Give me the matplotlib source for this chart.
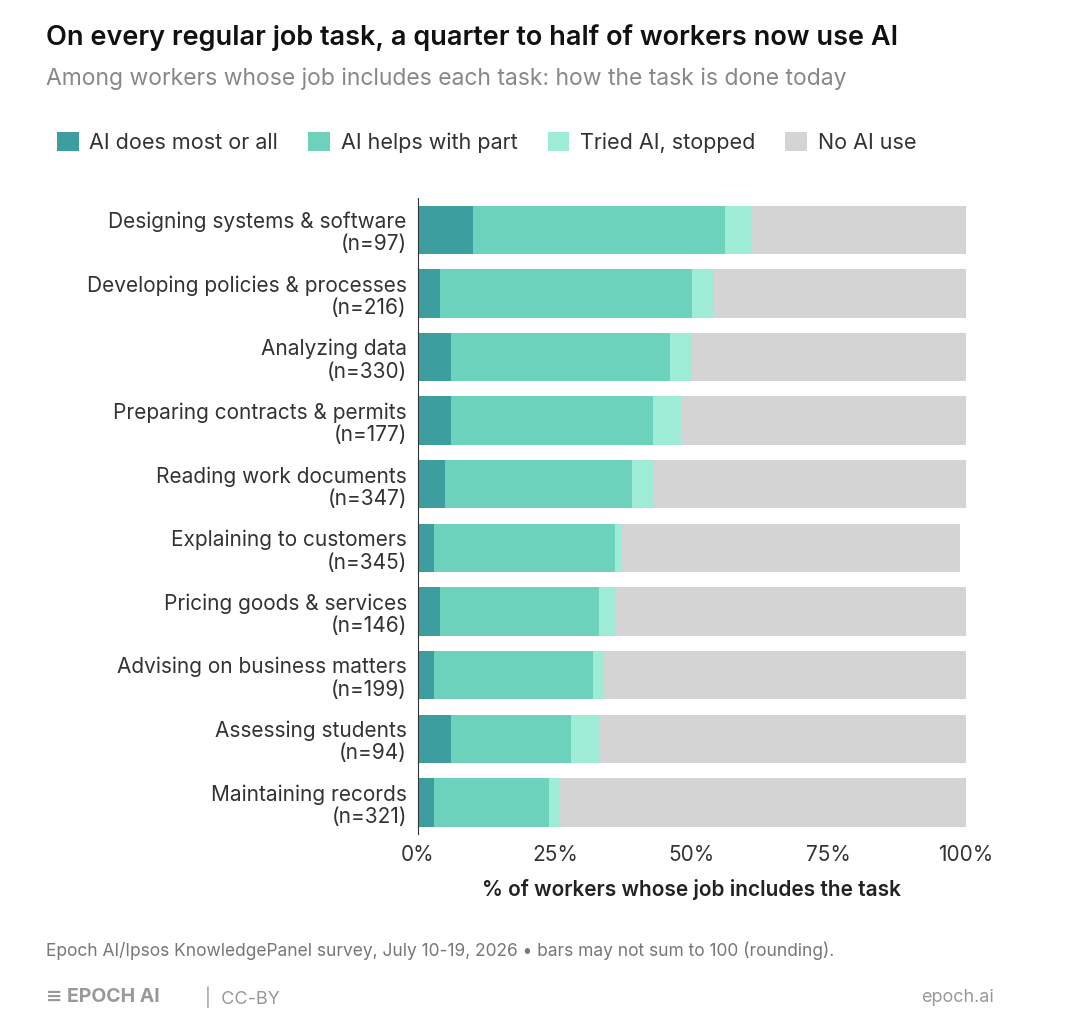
import matplotlib.pyplot as plt
import numpy as np

plt.rcParams['font.family'] = ['Inter', 'DejaVu Sans']

tasks = ["Designing systems & software", "Developing policies & processes", "Analyzing data",
         "Preparing contracts & permits", "Reading work documents", "Explaining to customers",
         "Pricing goods & services", "Advising on business matters", "Assessing students",
         "Maintaining records"]
ns = [97, 216, 330, 177, 347, 345, 146, 199, 94, 321]
ai_most = [10, 4, 6, 6, 5, 3, 4, 3, 6, 3]
ai_part = [46, 46, 40, 37, 34, 33, 29, 29, 22, 21]
tried = [5, 4, 4, 5, 4, 1, 3, 2, 5, 2]
no_ai = [39, 46, 50, 52, 57, 62, 64, 66, 67, 74]

series = [("AI does most or all", ai_most, "#3d9e9f"),
          ("AI helps with part", ai_part, "#6dd2bb"),
          ("Tried AI, stopped", tried, "#9fecd6"),
          ("No AI use", no_ai, "#d4d4d4")]

fig = plt.figure(figsize=(10.8, 10.26), dpi=100)
ax = fig.add_axes([0.387, 0.187, 0.507, 0.62])

y = np.arange(len(tasks))
left = np.zeros(len(tasks))
for name, vals, col in series:
    ax.barh(y, vals, left=left, height=0.76, color=col, label=name)
    left += np.array(vals)

ax.set_ylim(len(tasks) - 0.5, -0.5)
ax.set_xlim(0, 100)
ax.set_yticks(y)
ax.set_yticklabels([f"{t}\n(n={n})" for t, n in zip(tasks, ns)], fontsize=15, color="#333333",
                   linespacing=1.15, ha="right")
ax.set_xticks([0, 25, 50, 75, 100])
ax.set_xticklabels(["0%", "25%", "50%", "75%", "100%"], fontsize=15, color="#333333")
ax.tick_params(axis="both", length=0, pad=8)
for s in ["top", "right", "bottom"]:
    ax.spines[s].set_visible(False)
ax.spines["left"].set_color("#333333")
ax.set_xlabel("% of workers whose job includes the task", fontsize=15, fontweight="semibold",
              color="#222222", labelpad=10)

fig.text(0.043, 0.963, "On every regular job task, a quarter to half of workers now use AI",
         fontsize=19.5, fontweight="semibold", color="#111111", va="center")
fig.text(0.043, 0.923, "Among workers whose job includes each task: how the task is done today",
         fontsize=16.5, color="#888888", va="center")

handles, labels = ax.get_legend_handles_labels()
fig.legend(handles, labels, loc="center left", bbox_to_anchor=(0.035, 0.861), ncol=4, frameon=False,
           fontsize=15.5, handlelength=1.0, handleheight=1.0, columnspacing=1.4, handletextpad=0.5,
           labelcolor="#333333")

fig.text(0.043, 0.073, "Epoch AI/Ipsos KnowledgePanel survey, July 10-19, 2026 \u2022 bars may not sum to 100 (rounding).",
         fontsize=12.5, color="#777777", va="center")
fig.text(0.043, 0.028, "\u2261 EPOCH AI", fontsize=14, fontweight="bold", color="#999999", va="center")
fig.text(0.19, 0.028, "|  CC-BY", fontsize=13, color="#999999", va="center")
fig.text(0.92, 0.028, "epoch.ai", fontsize=13, color="#999999", va="center", ha="right")

fig.savefig("out.png", dpi=100, facecolor="white")
